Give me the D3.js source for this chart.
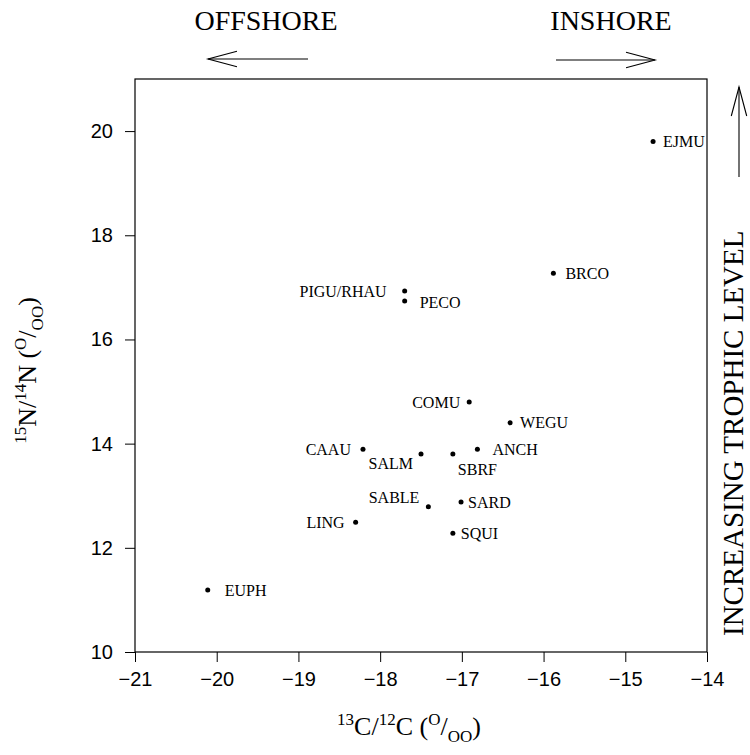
<!DOCTYPE html>
<html>
<head>
<meta charset="utf-8">
<script src="https://cdn.jsdelivr.net/npm/d3@7"></script>
<style>
  body { margin: 0; background: #fff; }
  svg { display: block; }
</style>
</head>
<body>
<svg id="chart" width="750" height="755"></svg>
<script>
// species codes and their isotope values (per mil)
var species = ["EJMU", "BRCO", "PIGU/RHAU", "PECO", "COMU", "WEGU", "CAAU", "SALM",
               "SBRF", "ANCH", "SABLE", "SARD", "LING", "SQUI", "EUPH"]
var carbon = [-14.66, -15.88, -17.70, -17.70, -16.91, -16.41, -18.21, -17.50,
              -17.11, -16.81, -17.41, -17.01, -18.30, -17.11, -20.11]
var nitrogen = [19.8, 17.27, 16.93, 16.74, 14.80, 14.40, 13.89, 13.80,
                13.80, 13.89, 12.79, 12.88, 12.49, 12.28, 11.19]

var xTicks = [-21, -20, -19, -18, -17, -16, -15, -14]
var yTicks = [10, 12, 14, 16, 18, 20]

// where each label sits relative to its dot
var labelPos = {
  "EJMU": [10, 0, "start"], "BRCO": [12, 0, "start"], "PIGU/RHAU": [-18, 0, "end"],
  "PECO": [15, 1, "start"], "COMU": [-9, 0, "end"], "WEGU": [10, 0, "start"],
  "CAAU": [-12, 0, "end"], "SALM": [-8, 9, "end"], "SBRF": [5, 15, "start"],
  "ANCH": [15, 0, "start"], "SABLE": [-9, -9, "end"], "SARD": [7, 0, "start"],
  "LING": [-11, 0, "end"], "SQUI": [8, 0, "start"], "EUPH": [17, 0, "start"]
}

var serif = "'Liberation Serif', 'Times New Roman', serif"
var sans = "'Liberation Sans', Arial, sans-serif"

var svg = d3.select("#chart"),
    margin = {top: 79, right: 43, bottom: 103, left: 135},
    width = +svg.attr("width") - margin.left - margin.right,
    height = +svg.attr("height") - margin.top - margin.bottom,
    g = svg.append("g").attr("transform", "translate(" + margin.left + "," + margin.top + ")")

var x = d3.scaleLinear().domain([-21, -14]).range([0, width])
var y = d3.scaleLinear().domain([10, 21]).range([height, 0])

// frame
g.append("rect")
  .attr("width", width).attr("height", height)
  .attr("fill", "none").attr("stroke", "#000").attr("stroke-width", 1.2)

var xAxis = g.append("g")
  .attr("transform", "translate(0," + height + ")")
  .call(d3.axisBottom(x).tickValues(xTicks).tickSize(10).tickPadding(10).tickFormat(d3.format("d")))
var yAxis = g.append("g")
  .call(d3.axisLeft(y).tickValues(yTicks).tickSize(10).tickPadding(12).tickFormat(d3.format("d")))

;[xAxis, yAxis].forEach(function (a) {
  a.select(".domain").remove()
  a.selectAll("line").attr("stroke", "#000").attr("stroke-width", 1)
  a.selectAll("text").attr("fill", "#000").style("font-family", sans).style("font-size", "20px")
})

// points
var pts = species.map(function (s, i) { return {name: s, c: carbon[i], n: nitrogen[i]} })

g.selectAll("circle.pt")
  .data(pts).enter().append("circle")
  .attr("class", "pt")
  .attr("cx", function (d) { return x(d.c) })
  .attr("cy", function (d) { return y(d.n) })
  .attr("r", 2.5)
  .attr("fill", "#000")

g.selectAll("text.lbl")
  .data(pts).enter().append("text")
  .attr("class", "lbl")
  .attr("x", function (d) { return x(d.c) + labelPos[d.name][0] })
  .attr("y", function (d) { return y(d.n) + labelPos[d.name][1] })
  .attr("dy", "0.35em")
  .attr("text-anchor", function (d) { return labelPos[d.name][2] })
  .style("font-family", serif).style("font-size", "16px")
  .text(function (d) { return d.name })

// axis titles with super/subscripts
function richText (sel, parts, big, small) {
  var off = 0
  parts.forEach(function (p) {
    var target = p.s === "sup" ? -0.38 * big : (p.s === "sub" ? 0.25 * big : 0)
    sel.append("tspan")
      .attr("dy", target - off)
      .style("font-size", (p.s ? small : big) + "px")
      .text(p.t)
    off = target
  })
}

var xTitle = svg.append("text")
  .attr("x", margin.left + width / 2 - 12)
  .attr("y", 735)
  .attr("text-anchor", "middle")
  .style("font-family", serif)
richText(xTitle, [{t: "13", s: "sup"}, {t: "C/"}, {t: "12", s: "sup"}, {t: "C ("},
  {t: "O", s: "sup"}, {t: "/"}, {t: "OO", s: "sub"}, {t: ")"}], 26, 17)

var yTitle = svg.append("text")
  .attr("transform", "translate(36," + (margin.top + height / 2 + 5) + ") rotate(-90)")
  .attr("text-anchor", "middle")
  .style("font-family", serif)
richText(yTitle, [{t: "15", s: "sup"}, {t: "N/"}, {t: "14", s: "sup"}, {t: "N ("},
  {t: "O", s: "sup"}, {t: "/"}, {t: "OO", s: "sub"}, {t: ")"}], 26, 17)

// direction annotations, open chevron heads
function arrow (x1, y1, x2, y2) {
  var ang = Math.atan2(y2 - y1, x2 - x1), len = 30, spread = 0.26
  svg.append("line").attr("x1", x1).attr("y1", y1).attr("x2", x2).attr("y2", y2)
    .attr("stroke", "#000").attr("stroke-width", 1.1)
  var p = d3.path()
  p.moveTo(x2 - len * Math.cos(ang - spread), y2 - len * Math.sin(ang - spread))
  p.lineTo(x2, y2)
  p.lineTo(x2 - len * Math.cos(ang + spread), y2 - len * Math.sin(ang + spread))
  svg.append("path").attr("d", p.toString()).attr("fill", "none")
    .attr("stroke", "#000").attr("stroke-width", 1.1)
}

svg.append("text").attr("x", 266).attr("y", 30).attr("text-anchor", "middle")
  .style("font-family", serif).style("font-size", "28px").text("OFFSHORE")
svg.append("text").attr("x", 611).attr("y", 30).attr("text-anchor", "middle")
  .style("font-family", serif).style("font-size", "28px").text("INSHORE")
arrow(308, 59, 208, 59)
arrow(556, 60, 655, 60)
arrow(739, 177, 739, 87)

svg.append("text")
  .attr("transform", "translate(743,636) rotate(-90)")
  .attr("text-anchor", "start")
  .style("font-family", serif).style("font-size", "29px")
  .text("INCREASING TROPHIC LEVEL")
</script>
</body>
</html>
